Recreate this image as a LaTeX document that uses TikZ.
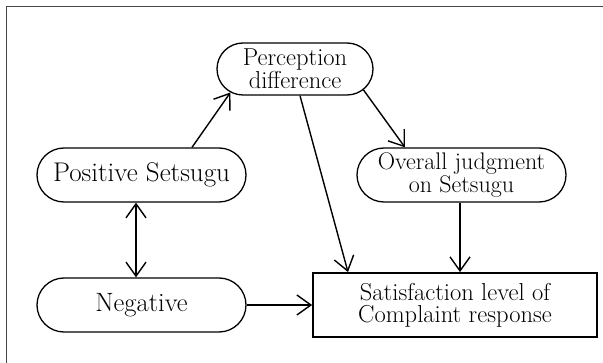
\documentclass[tikz,border=0pt]{standalone}
\usetikzlibrary{shapes.misc,arrows.meta,calc}
\definecolor{framegray}{RGB}{70,70,70}
\tikzset{
  pill/.style={draw, line width=1.3pt, rounded rectangle, inner sep=0pt, align=center},
  boxnode/.style={draw, line width=1.8pt, rectangle, inner sep=0pt, align=center},
  conn/.style={line width=1.4pt, -{Straight Barb[length=14pt,width=20pt,line width=1.4pt]}},
  biconn/.style={line width=1.4pt, {Straight Barb[length=14pt,width=20pt,line width=1.4pt]}-{Straight Barb[length=14pt,width=20pt,line width=1.4pt]}},
  bigtext/.style={font=\fontsize{27}{28}\selectfont},
  negtext/.style={font=\fontsize{26.5}{28}\selectfont},
  medtext/.style={font=\fontsize{24.5}{20.5}\selectfont},
  medtextb/.style={font=\fontsize{24}{21.5}\selectfont},
  sattext/.style={font=\fontsize{24.5}{22}\selectfont},
}
\begin{document}
\begin{tikzpicture}[x=1pt,y=-1pt]
\useasboundingbox (0,0) rectangle (603,363);
% outer frame (only left and top edges are visible)
\draw[framegray, line width=1.5pt] (6.5,363) -- (6.5,6.5) -- (603,6.5);

\node[pill, medtext, minimum width=156pt, minimum height=52pt] (perc) at (295,69) {Perception\\difference};
\node[pill, bigtext, minimum width=209pt, minimum height=54pt] (pos) at (141.5,175) {Positive Setsugu};
\node[pill, medtextb, minimum width=209pt, minimum height=54pt] (over) at (461.5,175) {Overall judgment\\on Setsugu};
\node[pill, negtext, minimum width=209pt, minimum height=54pt] (neg) at (141.5,305) {Negative};
\node[boxnode, sattext, minimum width=284pt, minimum height=64pt] (sat) at (455,305) {Satisfaction level of\\Complaint response};

\draw[conn] ([xshift=50.5pt]pos.north) -- (perc.200);
\draw[conn] ([xshift=5pt]perc.south) -- ([xshift=-107pt]sat.north);
\draw[conn] (perc.-17) -- ([xshift=-56.5pt]over.north);
\draw[conn] ([xshift=-1.5pt]over.south) -- ([xshift=-1.5pt]over.south |- sat.north);
\draw[conn] (neg.east) -- (sat.west);
\draw[biconn] ([xshift=-5.5pt]pos.south) -- ([xshift=-5.5pt]neg.north);
\end{tikzpicture}
\end{document}
